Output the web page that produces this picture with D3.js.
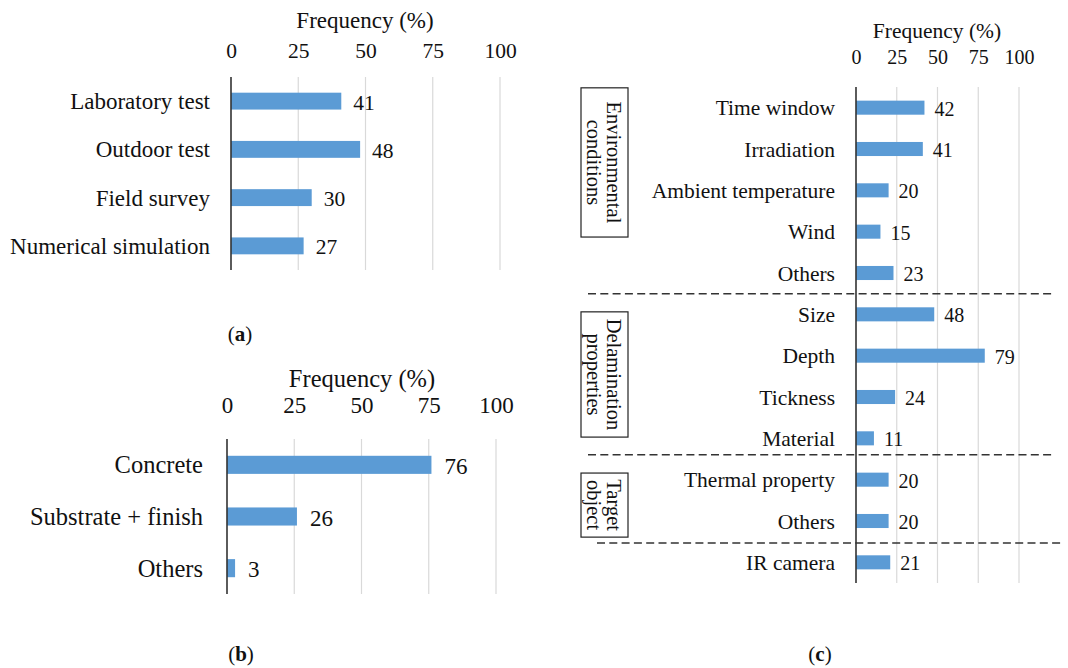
<!DOCTYPE html>
<html>
<head>
<meta charset="utf-8">
<script src="https://cdn.jsdelivr.net/npm/d3@7"></script>
<style>
body { margin: 0; background: #fff; }
</style>
</head>
<body>
<svg id="chart" width="1068" height="668"></svg>
<script>
// panel a
const methodNames = ["Laboratory test", "Outdoor test", "Field survey", "Numerical simulation"];
const methodFreq = [41, 48, 30, 27];
// panel b
const materialNames = ["Concrete", "Substrate + finish", "Others"];
const materialFreq = [76, 26, 3];
// panel c
const factorNames = ["Time window", "Irradiation", "Ambient temperature", "Wind", "Others",
  "Size", "Depth", "Tickness", "Material", "Thermal property", "Others ", "IR camera"];
const factorFreq = [42, 41, 20, 15, 23, 48, 79, 24, 11, 20, 20, 21];
const groupNames = [["Environmental", "conditions"], ["Delamination", "properties"], ["Target", "object"]];
const xTicks = [0, 25, 50, 75, 100];

// box extents / separators in category units (c)
const groupBoxes = [[-0.48, 3.13], [4.94, 7.97], [8.84, 10.39]];
const separators = [5, 8.9, 11.03];

const serif = "'Liberation Serif', 'Times New Roman', 'DejaVu Serif', serif";
const barColor = "#5b9bd5";
const svg = d3.select("#chart").attr("font-family", serif).attr("fill", "#111");

function panel(opt) {
  let g = svg.append("g");
  let x = d3.scaleLinear().domain([0, 100]).range([opt.x0, opt.x1]);
  let y = d3.scaleBand().domain(d3.range(opt.names.length))
    .range([opt.y0, opt.y1]).paddingInner(opt.pad).paddingOuter(opt.pad / 2);

  // grid
  g.selectAll(".grid").data(xTicks.slice(1)).join("line")
    .attr("x1", d => x(d)).attr("x2", d => x(d))
    .attr("y1", opt.y0).attr("y2", opt.y1)
    .attr("stroke", "#d9d9d9").attr("stroke-width", 1.2);

  // top axis labels
  let ax = g.append("g").attr("transform", `translate(0,${opt.tickY})`)
    .call(d3.axisTop(x).tickValues(xTicks).tickSize(0).tickPadding(0));
  ax.attr("font-family", serif).attr("font-size", opt.tfs);
  ax.select(".domain").remove();
  ax.selectAll("text").attr("fill", "#111").attr("dy", "0.35em");

  g.append("text").attr("x", opt.titleX).attr("y", opt.titleY)
    .attr("text-anchor", "middle").attr("dy", "0.35em")
    .attr("font-size", opt.fs).text("Frequency (%)");

  g.selectAll(".bar").data(opt.values).join("rect")
    .attr("x", x(0)).attr("y", (d, i) => y(i))
    .attr("width", d => x(d) - x(0)).attr("height", y.bandwidth())
    .attr("fill", barColor);

  g.selectAll(".val").data(opt.values).join("text")
    .attr("x", d => x(d) + opt.valGap).attr("y", (d, i) => y(i) + y.bandwidth() / 2)
    .attr("dy", "0.4em").attr("font-size", opt.tfs).text(d => d);

  g.selectAll(".cat").data(opt.names).join("text")
    .attr("x", opt.labelX).attr("y", (d, i) => y(i) + y.bandwidth() / 2)
    .attr("dy", "0.35em").attr("text-anchor", "end").attr("font-size", opt.fs)
    .text(d => d.trim());

  g.append("line").attr("x1", x(0)).attr("x2", x(0))
    .attr("y1", opt.y0).attr("y2", opt.y1)
    .attr("stroke", "#333").attr("stroke-width", 1.6);

  return { g, x, y };
}

function caption(letter, cx, base) {
  svg.append("text").attr("x", cx).attr("y", base).attr("text-anchor", "middle")
    .attr("font-size", 21).html(`(<tspan font-weight="bold">${letter}</tspan>)`);
}

panel({ names: methodNames, values: methodFreq, x0: 231, x1: 500, y0: 77, y1: 270,
  pad: 0.65, fs: 23, tfs: 21.5, tickY: 50, titleX: 365, titleY: 20, labelX: 210, valGap: 12 });
caption("a", 240, 341);

panel({ names: materialNames, values: materialFreq, x0: 227, x1: 496, y0: 439, y1: 594,
  pad: 0.65, fs: 24.5, tfs: 23, tickY: 405, titleX: 362, titleY: 378, labelX: 203, valGap: 13 });
caption("b", 241, 661);

const pc = panel({ names: factorNames, values: factorFreq, x0: 856, x1: 1019, y0: 87, y1: 583,
  pad: 0.66, fs: 21.5, tfs: 20, tickY: 57, titleX: 937, titleY: 30, labelX: 835, valGap: 10 });
caption("c", 820, 661);

const catY = u => pc.y.range()[0] + pc.y.step() * (u + 0.5);

// dashed group separators
const sepX = [[588, 1055], [588, 1055], [597, 1063]];
separators.forEach((s, k) => {
  let yy = catY(s - 0.5);
  svg.append("line").attr("x1", sepX[k][0]).attr("x2", sepX[k][1])
    .attr("y1", yy).attr("y2", yy)
    .attr("stroke", "#333").attr("stroke-width", 1.5).attr("stroke-dasharray", "8,4.3");
});

// group boxes with rotated labels
groupBoxes.forEach((b, k) => {
  let top = catY(b[0]), bot = catY(b[1]);
  let bx = 581, bw = 47;
  svg.append("rect").attr("x", bx).attr("y", top).attr("width", bw).attr("height", bot - top)
    .attr("fill", "none").attr("stroke", "#222").attr("stroke-width", 1.2);
  let cx = bx + bw / 2, cy = (top + bot) / 2;
  let t = svg.append("text").attr("transform", `translate(${cx},${cy}) rotate(90)`)
    .attr("text-anchor", "middle").attr("font-size", 20.5);
  t.append("tspan").attr("x", 0).attr("y", -2).text(groupNames[k][0]);
  t.append("tspan").attr("x", 0).attr("y", 18).text(groupNames[k][1]);
});
</script>
</body>
</html>
